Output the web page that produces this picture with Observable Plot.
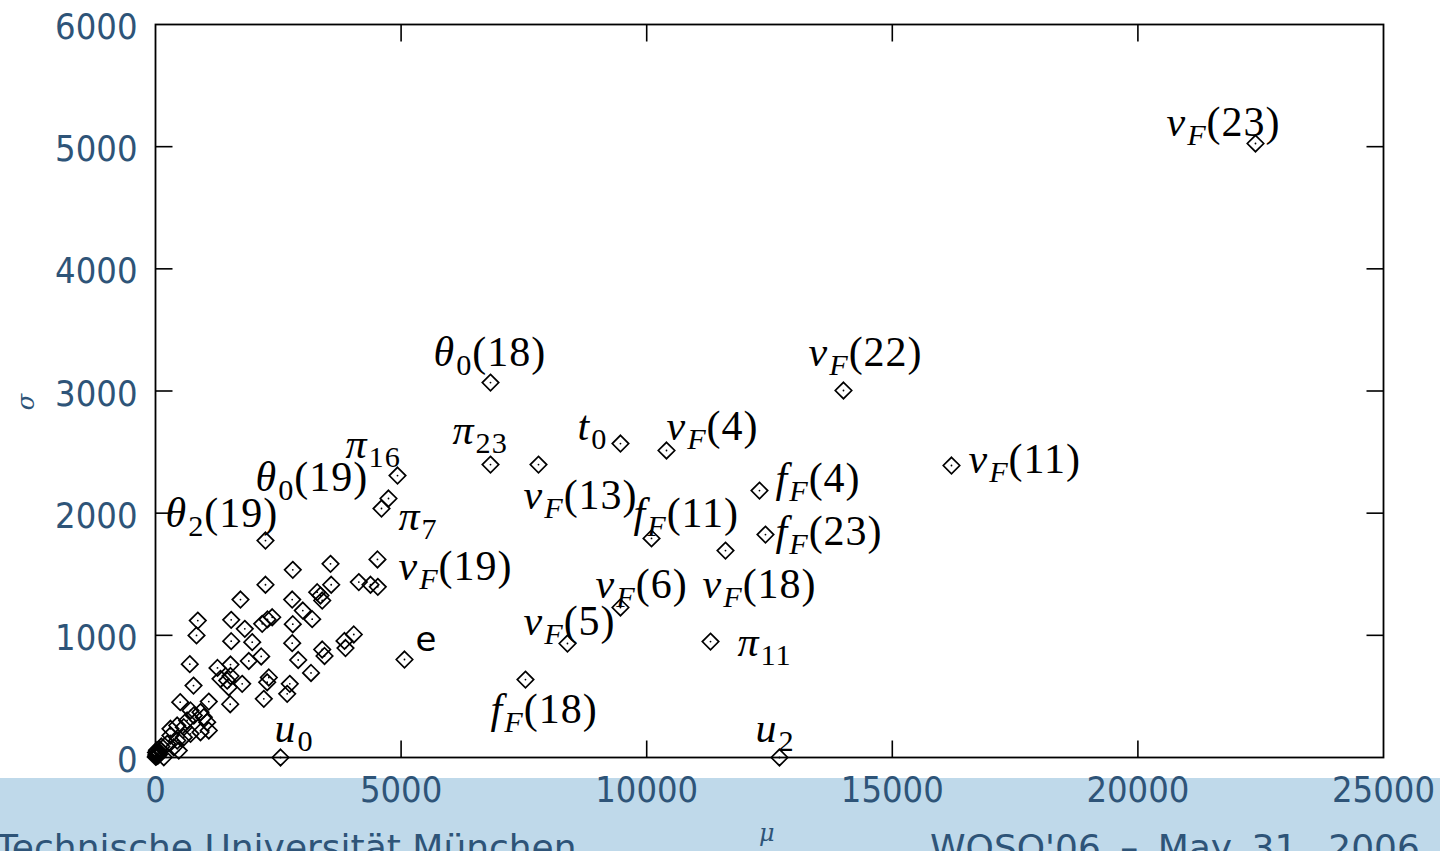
<!DOCTYPE html>
<html><head><meta charset="utf-8">
<script src="https://cdn.jsdelivr.net/npm/d3@7"></script>
<script src="https://cdn.jsdelivr.net/npm/@observablehq/plot@0.6"></script>
<style>
html,body{margin:0;padding:0;background:#fff;overflow:hidden;}
#wrap{position:relative;width:1440px;height:851px;overflow:hidden;}
#band{position:absolute;left:0;top:778px;width:1440px;height:73px;background:#bfd9ea;}
#chart{position:absolute;left:0;top:0;}
.ft{position:absolute;color:#2e5478;white-space:nowrap;line-height:1;}
</style></head><body>
<div id="wrap">
<div id="band"></div>
<div class="ft" style="left:-4px;top:830px;font-family:'DejaVu Sans',sans-serif;font-size:36px;">Technische Universität München</div>
<div class="ft" style="left:930px;top:830px;font-family:'DejaVu Sans',sans-serif;font-size:36px;word-spacing:8px;">WOSQ'06 – May 31, 2006</div>
<div class="ft" style="left:759px;top:821px;font-family:'DejaVu Serif',serif;font-style:italic;font-size:24px;">μ</div>
<div class="ft" style="left:18px;top:390px;font-family:'DejaVu Serif',serif;font-style:italic;font-size:24px;transform:rotate(-90deg);">σ</div>
<div id="chart"></div>
</div>
<script>
// axis ticks
const xTicks = [0, 5000, 10000, 15000, 20000, 25000];
const yTicks = [0, 1000, 2000, 3000, 4000, 5000, 6000];

// labeled points (mu, sigma)
const labeledMu    = [22394, 6820, 14006, 9466, 10403, 6820, 7797, 16205, 12296, 4927, 4743, 4601, 2239, 10098, 12418, 11604, 9466, 8387, 11299, 5069, 7532, 2545, 12703, 4519];
const labeledSigma = [5026, 3069, 3004, 2570, 2513, 2398, 2398, 2390, 2185, 2308, 2120, 2038, 1776, 1793, 1825, 1694, 1228, 933, 949, 802, 638, 0, 0, 1621];

// unlabeled cluster points (mu, sigma)
const clusterMu = [3563, 2795, 2239, 3577, 4139, 4377, 4526, 3292, 3359, 1730, 2783, 3394, 2999, 3190, 2376, 2280, 2172, 1541, 861, 835, 1818, 2795, 1541, 1969, 2783, 4037, 3848, 3868, 3394, 3441, 2152, 1900, 2905, 3166, 698, 1262, 1323, 1527, 1527, 1492, 1765, 2307, 2274, 2734, 2681, 2205, 1521, 774, 503, 1085, 1460,
  713, 780, 645, 576, 442, 305, 916, 983, 1052, 1085, 916, 713, 576, 442, 305, 238, 102, 35, 169, 373, 474,
  5, 15, 25, 40, 60, 10, 50, 80, 120, 30, 70];
const clusterSigma = [1585, 1536, 1414, 1414, 1436, 1414, 1397, 1353, 1326, 1293, 1293, 1285, 1203, 1132, 1148, 1130, 1094, 1127, 1121, 999, 1053, 1091, 952, 944, 936, 1007, 954, 896, 884, 831, 827, 790, 798, 692, 764, 733, 644, 761, 667, 575, 603, 655, 616, 603, 521, 480, 436, 589, 453, 458, 630,
  385, 344, 303, 248, 262, 235, 371, 330, 289, 221, 207, 194, 166, 139, 180, 112, 57, 30, 2, 84, 57,
  5, 20, 10, 35, 40, 40, 15, 70, 90, 60, 25];

// text labels (anchor: left edge, vertical middle)
const labelText  = ["v_F(23)", "θ_0(18)", "v_F(22)", "t_0", "v_F(4)", "π_23", "π_16", "θ_0(19)", "θ_2(19)", "π_7", "v_F(13)", "f_F(11)", "f_F(4)", "f_F(23)", "v_F(11)", "v_F(19)", "v_F(6)", "v_F(18)", "v_F(5)", "π_11", "e", "f_F(18)", "u_0", "u_2"];
const labelMu    = [20582, 5660, 13294, 8591, 10403, 6046, 3868, 2036, 204, 4947, 7492, 9731, 12622, 12622, 16551, 4947, 8958, 11136, 7492, 11848, 5293, 6820, 2423, 12215];
const labelSigma = [5197, 3315, 3315, 2709, 2709, 2676, 2560, 2292, 1997, 1973, 2144, 1997, 2284, 1850, 2439, 1563, 1416, 1416, 1113, 941, 958, 393, 235, 235];

const points = [
  ...labeledMu.map((m, i) => ({mu: m, sigma: labeledSigma[i]})),
  ...clusterMu.map((m, i) => ({mu: m, sigma: clusterSigma[i]}))
];
const labels = labelText.map((t, i) => ({t, mu: labelMu[i], sigma: labelSigma[i]}));

const TL = 17;
const tUp = {draw(c){c.moveTo(0,0);c.lineTo(0,-TL);}};
const tDown = {draw(c){c.moveTo(0,0);c.lineTo(0,TL);}};
const tRight = {draw(c){c.moveTo(0,0);c.lineTo(TL,0);}};
const tLeft = {draw(c){c.moveTo(0,0);c.lineTo(-TL,0);}};
const innerX = xTicks.slice(1, -1), innerY = yTicks.slice(1, -1);
const tickStyle = {stroke: "black", strokeWidth: 1.6, fill: "none"};
const axisFont = "'DejaVu Sans Condensed', 'DejaVu Sans', sans-serif";
const FS = 42;

const chart = Plot.plot({
  width: 1440, height: 851,
  marginLeft: 155, marginRight: 57, marginTop: 24, marginBottom: 94,
  x: {domain: [0, 25000], label: null},
  y: {domain: [0, 6000], label: null},
  style: {background: "transparent", color: "#2e5478", overflow: "visible"},
  marks: [
    Plot.axisX(xTicks, {tickSize: 0, tickPadding: 19, fontSize: 36, fontFamily: axisFont, label: null, tickFormat: d => String(d)}),
    Plot.axisY(yTicks, {tickSize: 0, tickPadding: 18, fontSize: 36, fontFamily: axisFont, label: null, dy: 3, tickFormat: d => String(d)}),
    Plot.dot(innerX, {x: d => d, y: () => 0, symbol: tUp, ...tickStyle}),
    Plot.dot(innerX, {x: d => d, y: () => 6000, symbol: tDown, ...tickStyle}),
    Plot.dot(innerY, {x: () => 0, y: d => d, symbol: tRight, ...tickStyle}),
    Plot.dot(innerY, {x: () => 25000, y: d => d, symbol: tLeft, ...tickStyle}),
    Plot.frame({stroke: "black", strokeWidth: 1.8}),
    Plot.dot(points, {x: "mu", y: "sigma", symbol: "diamond2", r: 7.4, stroke: "black", strokeWidth: 1.7, fill: "none"}),
    Plot.dot(points, {x: "mu", y: "sigma", r: 0.9, fill: "black", stroke: "none"}),
    Plot.text(labels, {x: "mu", y: "sigma", text: "t", textAnchor: "start", lineAnchor: "middle", fontSize: FS, fontFamily: "'Liberation Serif', serif", fill: "black"})
  ]
});
document.getElementById("chart").appendChild(chart);

// typeset labels: italic letters, subscripts
const NS = "http://www.w3.org/2000/svg";
const svg = chart.tagName.toLowerCase() === "svg" ? chart : chart.querySelector("svg");
svg.querySelectorAll('g[aria-label="text"] text').forEach(el => {
  const s = el.textContent;
  if (s === "e") {
    el.setAttribute("font-family", "'DejaVu Sans', sans-serif");
    el.setAttribute("font-size", 34);
    return;
  }
  while (el.firstChild) el.removeChild(el.firstChild);
  const shift = Math.round(FS * 0.22);
  let pending = 0;
  const add = (txt, size, italic, dy, ls) => {
    const t = document.createElementNS(NS, "tspan");
    t.textContent = txt;
    t.setAttribute("font-size", size);
    t.setAttribute("font-style", italic ? "italic" : "normal");
    if (ls) t.setAttribute("letter-spacing", ls);
    if (dy) t.setAttribute("dy", dy);
    el.appendChild(t);
  };
  const re = /_([A-Za-z0-9]+)|([A-Za-zθπ]+)|([^_A-Za-zθπ]+)/g;
  let m;
  while ((m = re.exec(s))) {
    if (m[1]) {
      const parts = m[1].match(/[A-Za-z]+|[0-9]+/g);
      parts.forEach((p, k) => add(p, FS * 0.72, /[A-Za-z]/.test(p), k === 0 ? shift : 0, 1));
      pending = -shift;
    } else if (m[2]) {
      add(m[2], FS, true, pending, 2); pending = 0;
    } else {
      add(m[3], FS, false, pending, 1); pending = 0;
    }
  }
});
</script>
</body></html>
